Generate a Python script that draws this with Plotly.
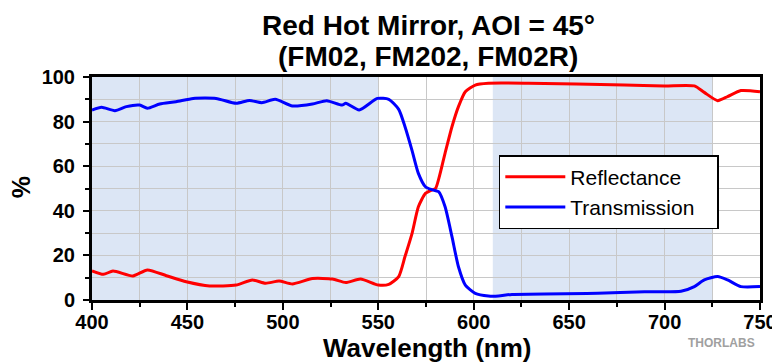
import plotly.graph_objects as go

# Reflectance (red)
r_wl = [400, 406, 411, 421.5, 429, 439, 449.4, 461.6, 475.5, 484, 491, 498, 505, 515.5, 526, 533, 540.7, 550, 555.5,
        560.7, 564, 567.7, 571, 574.7, 578, 580, 585, 588.6, 592, 595.6, 600.8, 607.7, 628.6, 679, 700, 715.6, 720.8,
        727.8, 733, 740, 750]
r_val = [13.1, 11.5, 13.0, 10.8, 13.5, 10.9, 8.2, 6.3, 6.7, 9.0, 7.5, 8.5, 7.2, 9.6, 9.4, 7.8, 9.4, 6.7, 7.0,
         10.5, 19.5, 29.9, 41.8, 47.8, 49.3, 50.0, 65.9, 77.7, 86.7, 93.4, 96.4, 97.2, 97.2, 96.4, 96.0, 96.0, 93.1,
         89.4, 91.2, 93.9, 93.4]

# Transmission (blue)
t_wl = [400, 405, 412, 418, 425, 429, 435.5, 444, 453, 465, 475.5, 482.5, 489, 496, 505, 515.5, 523, 531, 533, 540,
        549.5, 555.5, 560.7, 564, 567.7, 571, 574.7, 578, 581.6, 585, 588.6, 592, 595.6, 600.8, 607.7, 613, 620,
        665, 689.5, 708.6, 715.6, 720.8, 727.8, 733, 740, 750]
t_val = [85.2, 86.4, 84.9, 86.7, 87.4, 86.0, 87.9, 88.9, 90.4, 90.4, 88.2, 89.5, 88.5, 90.0, 87.0, 87.9, 89.4, 87.4, 88.2, 85.2,
         90.4, 90.0, 85.5, 77.7, 67.0, 56.8, 50.8, 49.5, 48.6, 41.8, 28.4, 14.9, 6.7, 3.0, 1.8, 1.8, 2.5,
         3.0, 3.7, 3.9, 6.0, 9.0, 10.5, 9.0, 6.0, 6.0]

shade_bands = [(400, 550), (610, 725)]
x_ticks = [400, 450, 500, 550, 600, 650, 700, 750]
y_ticks = [0, 20, 40, 60, 80, 100]
title_lines = ["Red Hot Mirror, AOI = 45°", "(FM02, FM202, FM02R)"]

FONT = "Liberation Sans, Arial"

fig = go.Figure()
fig.add_trace(go.Scatter(x=r_wl, y=r_val, mode="lines", name="Reflectance",
                         line=dict(color="#FF0000", width=3, shape="spline", smoothing=0.6)))
fig.add_trace(go.Scatter(x=t_wl, y=t_val, mode="lines", name="Transmission\u00a0\u00a0\u00a0",
                         line=dict(color="#0000FF", width=3, shape="spline", smoothing=0.6)))

for a, b in shade_bands:
    fig.add_shape(type="rect", xref="x", yref="y", x0=a, x1=b, y0=0, y1=100,
                  fillcolor="#DCE6F5", line=dict(width=0), layer="below")

# page body has an 8px default margin, so the figure is sized to fill the rest of the window
fig.update_layout(
    width=772, height=356,
    margin=dict(l=84, r=20, t=69, b=64, autoexpand=False),
    paper_bgcolor="white", plot_bgcolor="white",
    font=dict(family=FONT, color="black"),
    legend=dict(x=0.609, y=0.65, xanchor="left", yanchor="top",
                bgcolor="white", bordercolor="black", borderwidth=1.5,
                font=dict(size=21, color="black"), itemwidth=60,
                tracegroupgap=0),
    showlegend=True,
)

fig.update_xaxes(
    range=[400, 750], tickvals=x_ticks, automargin=False,
    ticks="outside", ticklen=7, tickwidth=2, tickcolor="black",
    ticklabelstandoff=-5,
    showline=True, linecolor="black", linewidth=3, mirror=True,
    showgrid=True, gridcolor="#C8C8C8", gridwidth=1,
    minor=dict(dtick=25, tick0=400, ticks="outside", ticklen=4, tickwidth=1.5, tickcolor="black",
               showgrid=True, gridcolor="#C8C8C8", gridwidth=1),
    tickfont=dict(size=20, weight="bold", color="black"),
    zeroline=False,
)
fig.update_yaxes(
    range=[0, 100], tickvals=y_ticks, automargin=False,
    ticks="outside", ticklen=6, tickwidth=2, tickcolor="black",
    ticklabelstandoff=4,
    showline=True, linecolor="black", linewidth=3, mirror=True,
    showgrid=True, gridcolor="#C8C8C8", gridwidth=1,
    minor=dict(dtick=10, tick0=0, ticks="outside", ticklen=4, tickwidth=1.5, tickcolor="black",
               showgrid=True, gridcolor="#C8C8C8", gridwidth=1),
    tickfont=dict(size=20, weight="bold", color="black"),
    zeroline=False,
)

# Title lines (first line anchored to the top of the figure so its box stays inside)
fig.add_annotation(text="<b>" + title_lines[0] + "</b>", xref="paper", yref="paper", x=0.503, y=1.309,
                   xanchor="center", yanchor="top", showarrow=False,
                   font=dict(size=28, color="black", family=FONT))
fig.add_annotation(text="<b>" + title_lines[1] + "</b>", xref="paper", yref="paper", x=0.503, y=1.093,
                   xanchor="center", yanchor="middle", showarrow=False,
                   font=dict(size=28, color="black", family=FONT))

# Axis titles
fig.add_annotation(text="<b>Wavelength (nm)</b>", xref="paper", yref="paper", x=0.502, y=-0.215,
                   xanchor="center", yanchor="middle", showarrow=False,
                   font=dict(size=26, color="black", family=FONT))
fig.add_annotation(text="<b>%</b>", xref="paper", yref="paper", x=-0.106, y=0.507,
                   xanchor="center", yanchor="middle", showarrow=False, textangle=-90,
                   font=dict(size=25, color="black", family=FONT))

fig.add_annotation(text="<b>THORLABS</b>", xref="paper", yref="paper", x=0.996, y=-0.193,
                   xanchor="right", yanchor="middle", showarrow=False,
                   font=dict(size=12, color="#A0A0A0", family="Liberation Sans Narrow, Arial"))

fig.write_html("out.html")
